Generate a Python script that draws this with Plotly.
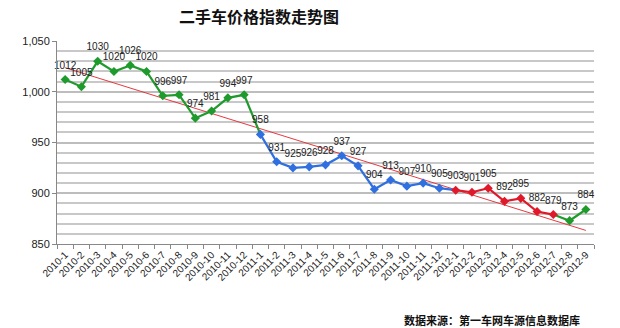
import numpy as np
import plotly.graph_objects as go

months = (["2010-%d" % m for m in range(1, 13)] +
          ["2011-%d" % m for m in range(1, 13)] +
          ["2012-%d" % m for m in range(1, 10)])
values_2010 = [1012, 1005, 1030, 1020, 1026, 1020, 996, 997, 974, 981, 994, 997]
values_2011 = [958, 931, 925, 926, 928, 937, 927, 904, 913, 907, 910, 905]
values_2012 = [903, 901, 905, 892, 895, 882, 879, 873, 884]
values = values_2010 + values_2011 + values_2012

title = "二手车价格指数走势图"
source = "数据来源：第一车网车源信息数据库"

GREEN = "#1f9a2c"
BLUE = "#2f6fe0"
RED = "#e0192a"
TREND = "#e8393f"

# line segments (start index, end index, colour)
segments = [(0, 12, GREEN), (12, 24, BLUE), (24, 30, RED), (30, 32, GREEN)]
marker_colors = [GREEN] * 12 + [BLUE] * 12 + [RED] * 7 + [GREEN] * 2

fig = go.Figure()

# trend line (linear fit, like Excel trendline)
idx = np.arange(len(values))
k, b = np.polyfit(idx, values, 1)
fig.add_trace(go.Scatter(x=months, y=k * idx + b, mode="lines",
                         line=dict(color=TREND, width=1), hoverinfo="skip"))

for a, e, c in segments:
    fig.add_trace(go.Scatter(x=months[a:e + 1], y=values[a:e + 1], mode="lines",
                             line=dict(color=c, width=2.2)))

fig.add_trace(go.Scatter(x=months, y=values, mode="markers",
                         marker=dict(symbol="diamond", size=7, color=marker_colors)))

# data labels (invisible larger marker pushes the label a bit higher)
fig.add_trace(go.Scatter(x=months, y=values, mode="markers+text", cliponaxis=False,
                         marker=dict(size=12, opacity=0),
                         text=[str(v) for v in values], textposition="top center",
                         textfont=dict(family="Liberation Sans, Arial", size=10, color="#222"),
                         hoverinfo="skip"))

fig.update_layout(
    width=620, height=328,
    margin=dict(l=57, r=26, t=41, b=84),
    paper_bgcolor="white", plot_bgcolor="white",
    showlegend=False,
    font=dict(family="Liberation Sans, Arial", size=11, color="#222"),
    title=dict(text="<b>" + title + "</b>", x=259 / 620, xanchor="center",
               y=1 - 17 / 328, yanchor="middle",
               font=dict(family="Noto Sans CJK SC", size=16, color="#111")),
    annotations=[dict(text="<b>" + source + "</b>", xref="paper", yref="paper",
                      x=(492 - 57) / 537, y=-(320 - 244) / 203,
                      xanchor="center", yanchor="middle", showarrow=False,
                      font=dict(family="Noto Sans CJK SC", size=11, color="#111"))],
)
fig.update_xaxes(type="category", range=[-0.5, len(months) - 0.5],
                 tickangle=-45, tickfont=dict(size=10),
                 showline=True, linecolor="#888", linewidth=1,
                 ticks="outside", ticklen=4, tickcolor="#888", tickson="boundaries",
                 showgrid=False, zeroline=False)
fig.update_yaxes(range=[850, 1050], dtick=50, tickformat=",d",
                 showline=True, linecolor="#888", linewidth=1,
                 ticks="outside", ticklen=4, tickcolor="#888",
                 showgrid=True, gridcolor="#bdbdbd", gridwidth=1.5,
                 minor=dict(dtick=10, showgrid=True, gridcolor="#c8c8c8", gridwidth=1.5),
                 zeroline=False, tickfont=dict(size=11))

fig.write_html("out.html")
